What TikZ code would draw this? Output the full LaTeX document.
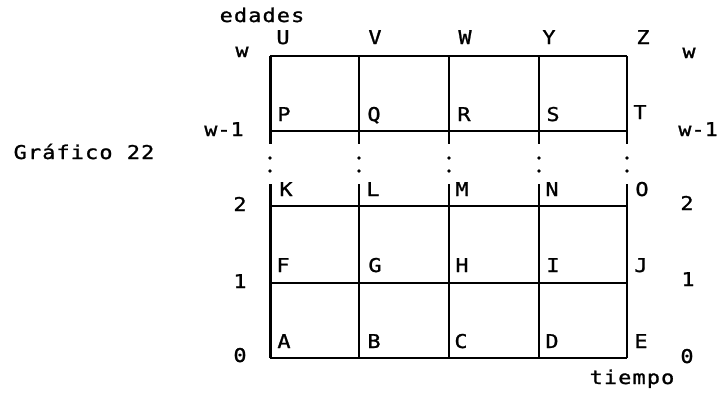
\documentclass[tikz,border=0pt]{standalone}
\usepackage{fontspec}
\usetikzlibrary{calc}
\newfontfamily\lblfont[LetterSpace=6,FakeStretch=1.15,FakeBold=1.2]{DejaVu Sans Mono}
\newfontfamily\axfont[FakeStretch=1.15,FakeBold=1.2]{DejaVu Sans Mono}
\begin{document}
\begin{tikzpicture}[x=1pt,y=-1pt,
  lbl/.style={inner sep=0pt, anchor=base, font=\lblfont\fontsize{19}{21}\selectfont},
  axl/.style={inner sep=0pt, anchor=base, font=\axfont\fontsize{19}{21}\selectfont},
  hline/.style={line width=1.5pt},
  vline/.style={line width=2.4pt},
  dotmark/.style={fill=black, draw=none}]
\useasboundingbox (0,0) rectangle (718,392);
% grid coordinates
\foreach \n/\x in {0/270,1/359,2/449,3/539,4/627}{
  \coordinate (t\n) at (\x,56);
  \coordinate (u\n) at (\x,144);
  \coordinate (d\n) at (\x,184);
  \coordinate (b\n) at (\x,358);
}
% horizontal lines
\foreach \y in {56,131,206,283,358}{
  \draw[hline] (270,\y) -- (627,\y);
}
% vertical lines with dotted break
\foreach \n in {0,...,4}{
  \draw[vline] (t\n) -- (u\n);
  \draw[vline] (d\n) -- (b\n);
  \fill[dotmark] ($(u\n)+(0,14)$) circle (1.8);
  \fill[dotmark] ($(u\n)+(0,27)$) circle (1.8);
}
\draw[line width=3pt] (t0) -- (u0);
\draw[line width=3pt] (d0) -- (b0);
% titles
\node[lbl] (edades) at (262,22) {edades};
\node[lbl] (tiempo) at (632,384) {tiempo};
\node[lbl] (graf) at (84,159) {Gráfico 22};
% column top letters
\node[lbl] (U) at (283,44) {U};
\node[lbl] (V) at (375,44) {V};
\node[lbl] (W) at (465,44) {W};
\node[lbl] (Y) at (549,44) {Y};
\node[lbl] (Z) at (643,44) {Z};
% row w-1
\node[lbl] (P) at (284,121) {P};
\node[lbl] (Q) at (374,121) {Q};
\node[lbl] (R) at (464,121) {R};
\node[lbl] (S) at (553,121) {S};
\node[lbl] (T) at (640,119) {T};
% row 2
\node[lbl] (K) at (286,196) {K};
\node[lbl] (L) at (373,196) {L};
\node[lbl] (M) at (462,196) {M};
\node[lbl] (N) at (552,196) {N};
\node[lbl] (O) at (642,196) {O};
% row 1
\node[lbl] (F) at (283,272) {F};
\node[lbl] (G) at (375,272) {G};
\node[lbl] (H) at (462,272) {H};
\node[lbl] (I) at (553,272) {I};
\node[lbl] (J) at (641,272) {J};
% row 0
\node[lbl] (A) at (284,348) {A};
\node[lbl] (B) at (374,348) {B};
\node[lbl] (C) at (461,348) {C};
\node[lbl] (D) at (552,348) {D};
\node[lbl] (E) at (641,348) {E};
% left axis
\node[axl] (lw) at (242,57) {w};
\node[axl] (lw1) at (224,136) {w-1};
\node[axl] (l2) at (240,211) {2};
\node[axl] (l1) at (240,288) {1};
\node[axl] (l0) at (240,362) {0};
% right axis
\node[axl] (rw) at (689,58) {w};
\node[axl,anchor=base east] (rw1) at (718,136) {w-1};
\node[axl] (r2) at (687,210) {2};
\node[axl] (r1) at (688,286) {1};
\node[axl] (r0) at (687,363) {0};
\end{tikzpicture}
\end{document}
